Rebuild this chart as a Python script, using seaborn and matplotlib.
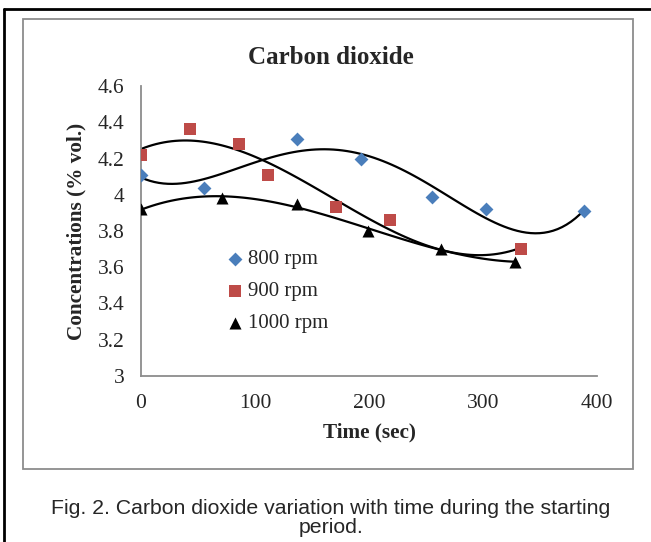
import matplotlib
matplotlib.use("Agg")
import matplotlib.pyplot as plt
from matplotlib.patches import Rectangle
from matplotlib.lines import Line2D
import seaborn as sns
import pandas as pd

# data
t_800 = [0, 55, 137, 193, 255, 303, 389]
c_800 = [4.11, 4.04, 4.31, 4.20, 3.99, 3.92, 3.91]
t_900 = [0, 43, 86, 111, 171, 218, 333]
c_900 = [4.22, 4.36, 4.28, 4.11, 3.93, 3.86, 3.70]
t_1000 = [0, 71, 137, 199, 263, 328]
c_1000 = [3.92, 3.98, 3.95, 3.80, 3.70, 3.63]

# label, x, y, colour, marker, marker size, trendline order
series = [
    ("800 rpm", t_800, c_800, "#4a7ebb", "D", 50, 4),
    ("900 rpm", t_900, c_900, "#be4b48", "s", 70, 3),
    ("1000 rpm", t_1000, c_1000, "black", "^", 75, 3),
]

sns.set_style("white")
plt.rcParams["font.family"] = ["Liberation Serif", "DejaVu Serif"]

W, H = 651, 542
fig = plt.figure(figsize=(W / 100, H / 100), dpi=100)

# outer black frame (left + top) and gray chart frame
fig.add_artist(Line2D([4 / W, 4 / W], [0, 1 - 9 / H], color="black", lw=2, transform=fig.transFigure))
fig.add_artist(Line2D([4 / W, 1], [1 - 9 / H, 1 - 9 / H], color="black", lw=2, transform=fig.transFigure))
fig.add_artist(Rectangle((23 / W, 1 - 469 / H), (633 - 23) / W, (469 - 19) / H,
                         fill=False, edgecolor="#8c8c8c", lw=1.3, transform=fig.transFigure))

ax = fig.add_axes([141 / W, 1 - 376 / H, 456 / W, 290 / H])

for label, t, c, col, mk, sz, order in series:
    df = pd.DataFrame({"t": t, "c": c})
    sns.regplot(data=df, x="t", y="c", order=order, ci=None, scatter=False, ax=ax,
                line_kws={"color": "black", "lw": 1.6})
    sns.scatterplot(data=df, x="t", y="c", marker=mk, color=col, s=sz, ax=ax,
                    edgecolor=col, linewidth=0, label=label, zorder=3)

ax.set_xlim(0, 400)
ax.set_ylim(3, 4.6)
ax.set_xticks([0, 100, 200, 300, 400])
ax.set_yticks([3, 3.2, 3.4, 3.6, 3.8, 4, 4.2, 4.4, 4.6])
ax.set_yticklabels(["3", "3.2", "3.4", "3.6", "3.8", "4", "4.2", "4.4", "4.6"])
ax.tick_params(axis="both", length=0, labelsize=15.5, pad=13)
ax.tick_params(axis="y", pad=12)
for s in ["top", "right"]:
    ax.spines[s].set_visible(False)
for s in ["left", "bottom"]:
    ax.spines[s].set_color("#8c8c8c")
    ax.spines[s].set_linewidth(1.3)
ax.set_xlabel("Time (sec)", fontsize=15.3, fontweight="bold", labelpad=7)
ax.set_ylabel("Concentrations (% vol.)", fontsize=15.3, fontweight="bold", labelpad=8)

fig.text(331 / W, 1 - 57 / H, "Carbon dioxide", ha="center", va="center",
         fontsize=18, fontweight="bold")

leg = ax.legend(loc="upper left", bbox_to_anchor=(0.16, 0.465), frameon=False,
                fontsize=15, handletextpad=0.05, labelspacing=0.6, handlelength=1.2,
                borderaxespad=0)

fig.text(331 / W, 1 - 518 / H,
         "Fig. 2. Carbon dioxide variation with time during the starting\nperiod.",
         ha="center", va="center", fontsize=15.3, family="Liberation Sans", linespacing=1.05)

fig.savefig("out.png", dpi=100)
